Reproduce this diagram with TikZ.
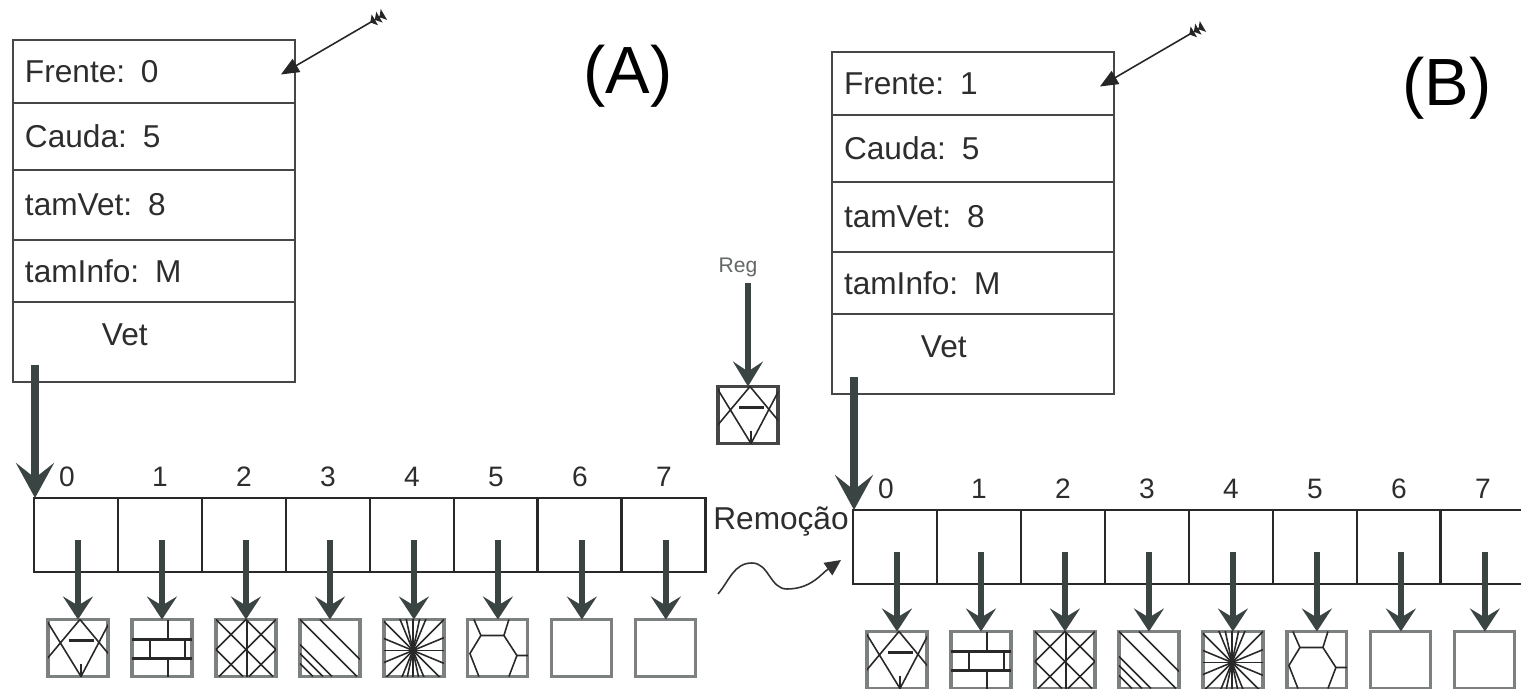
\documentclass[tikz,border=0pt]{standalone}
\usepackage{fontspec}
\setmainfont{Liberation Sans}
\usepackage{tikz}
\usetikzlibrary{calc}
\usetikzlibrary{positioning}
\usetikzlibrary{arrows.meta}
\definecolor{boxline}{RGB}{70,70,70}
\definecolor{cellline}{RGB}{40,40,40}
\definecolor{arrowgray}{RGB}{58,68,66}
\definecolor{elemline}{RGB}{125,128,128}
\definecolor{textgray}{RGB}{45,45,45}
\tikzset{
    % linhas do registro (Frente, Cauda, ...)
    fieldrow/.style={
        draw=boxline, line width=1.6pt,
        minimum width=5.64cm, text width=5.16cm, align=left,
        inner xsep=0.24cm, inner ysep=0pt, outer sep=0pt,
        text=textgray, font=\fontsize{18}{20}\selectfont
    },
    cellbox/.style={
        draw=cellline, line width=1.6pt,
        minimum width=1.68cm, minimum height=1.48cm,
        inner sep=0pt, outer sep=0pt
    },
    elembox/.style={
        draw=elemline, line width=1.8pt,
        minimum width=1.2cm, minimum height=1.14cm,
        inner sep=0pt, outer sep=0pt
    },
    idxlabel/.style={text=textgray, font=\fontsize{16}{18}\selectfont},
    biglabel/.style={text=black, font=\fontsize{38}{40}\selectfont},
    patline/.style={line width=0.9pt, cellline},
    % setas grossas
    vetarrow/.style={
        line width=4pt, arrowgray,
        -{Stealth[length=0.7cm, width=0.76cm, inset=0.3cm]}
    },
    elemarrow/.style={
        line width=3.5pt, arrowgray,
        -{Stealth[length=0.46cm, width=0.6cm, inset=0.18cm]}
    },
    regarrow/.style={
        line width=3.5pt, arrowgray,
        -{Stealth[length=0.5cm, width=0.6cm, inset=0.2cm]}
    },
    frontarrow/.style={
        line width=0.9pt, black!85,
        {Triangle[reversed, length=3pt, width=7pt]Triangle[reversed, length=3pt, width=7pt]Triangle[reversed, length=3pt, width=7pt]}-{Triangle[length=0.36cm, width=0.3cm]}
    },
    wavearrow/.style={
        line width=0.9pt, black!80,
        -{Triangle[length=0.32cm, width=0.3cm]}
    }
}
% ===================== padroes dos elementos =====================
\newcommand{\patstar}[1]{%
  \begin{scope}[shift={(#1.north west)}]
    \clip (0,0) rectangle (60,57);
    \draw[patline] (32,0) -- (-4,43) (32,0) -- (66,41)
                   (33,57) -- (-2,0) (33,57) -- (64,-2);
    \draw[patline, line width=1.3pt] (21,21) -- (46,21) (33,44) -- (33,57);
  \end{scope}}
\newcommand{\patbrick}[1]{%
  \begin{scope}[shift={(#1.north west)}]
    \clip (0,0) rectangle (60,57);
    \draw[patline, line width=1.3pt] (0,20) -- (60,20) (0,39) -- (60,39)
      (36,0) -- (36,20) (18,20) -- (18,39) (53,20) -- (53,39) (36,39) -- (36,57);
  \end{scope}}
\newcommand{\patcross}[1]{%
  \begin{scope}[shift={(#1.north west)}]
    \clip (0,0) rectangle (60,57);
    \foreach \o in {-30,0,30} {
      \draw[patline] (\o,0) -- ++(57,57);
      \draw[patline] ({60-(\o)},0) -- ++(-57,57);
    }
    \draw[patline, line width=1.3pt] (31,0) -- (31,57);
  \end{scope}}
\newcommand{\patdiag}[1]{%
  \begin{scope}[shift={(#1.north west)}]
    \clip (0,0) rectangle (60,57);
    \draw[patline] (20,0) -- (60,40) (0,0) -- (57,57)
      (0,25) -- (32,57) (0,34) -- (23,57) (0,44) -- (13,57);
  \end{scope}}
\newcommand{\patburst}[1]{%
  \begin{scope}[shift={(#1.north west)}]
    \clip (0,0) rectangle (60,57);
    \foreach \a in {0,22.5,...,157.5,78,102}
      \draw[patline] (29,31) ++(\a:45) -- ++(\a+180:90);
  \end{scope}}
\newcommand{\pathex}[1]{%
  \begin{scope}[shift={(#1.north west)}]
    \clip (0,0) rectangle (60,57);
    \draw[patline] (6,0) -- (13,16) -- (2,34) -- (11,57) (13,16) -- (36,16)
      (41,0) -- (36,16) -- (49,36) -- (60,36) (49,36) -- (41,57);
  \end{scope}}

\begin{document}
\begin{tikzpicture}[x=0.02cm, y=-0.02cm]
\useasboundingbox (0,0) rectangle (1521,689);

\foreach \s/\dx/\dy/\fr in {A/0/0/0, B/819/12/1} {
\begin{scope}[shift={(\dx,\dy)}]
  % ===================== registro da fila =====================
  \node[fieldrow, minimum height=1.26cm, anchor=north west] (f\s1) at (13,40) {Frente: \fr};
  \node[fieldrow, minimum height=1.34cm, below=0pt of f\s1] (f\s2) {Cauda: 5};
  \node[fieldrow, minimum height=1.40cm, below=0pt of f\s2] (f\s3) {tamVet: 8};
  \node[fieldrow, minimum height=1.24cm, below=0pt of f\s3] (f\s4) {tamInfo: M};
  \node[fieldrow, minimum height=1.60cm, below=0pt of f\s4] (f\s5)
    {\hspace*{1.54cm}\raisebox{0.14cm}[\height][\depth]{Vet}};

  \node[biglabel] (l\s) at (628,76) {(\s)};

  % seta da Frente
  \coordinate (t\s) at ($(f\s1.east)+(89,-57)$);
  \draw[frontarrow] (t\s) -- ($(f\s1.east)+(-14,3)$);

  % ===================== vetor =====================
  \node[cellbox, anchor=north west] (c\s0) at (34,498) {};
  \foreach \i [count=\j from 0] in {1,...,7}
    \node[cellbox, right=0pt of c\s\j] (c\s\i) {};

  \node[idxlabel] (n\s0) at ($(c\s0.north)+(-9,-21)$) {0};
  \foreach \i in {1,...,7}
    \node[idxlabel] (n\s\i) at ($(c\s\i.north)+(0,-21)$) {\i};

  \draw[vetarrow] ($(c\s0.north west |- f\s5.south)+(1,-17)$) -- ($(c\s0.north west)+(1,0)$);

  % ===================== elementos =====================
  \foreach \i in {0,...,7}
    \node[elembox] (e\s\i) at ($(c\s\i.center)+(2,113)$) {};
  \patstar{e\s0}
  \patbrick{e\s1}
  \patcross{e\s2}
  \patdiag{e\s3}
  \patburst{e\s4}
  \pathex{e\s5}
  \foreach \i in {0,...,7}
    \draw[elemarrow] ($(c\s\i.center)+(2,5)$) -- (e\s\i.north);
\end{scope}
}

% ===================== registro removido =====================
\node[elembox, draw=boxline] (rg) at (748,415) {};
\patstar{rg}
\node[text=elemline!80!black, font=\fontsize{12}{14}\selectfont] (rl) at (738,267) {Reg};
\draw[regarrow] (rg.north |- rl.south) -- (rg.north);

\node[text=textgray, font=\fontsize{18}{20}\selectfont] (rm) at (781,522) {Remoção};
\coordinate (w0) at (718,594);
\draw[wavearrow] (w0) to[out=50, in=180] ++(34,-31) to[out=0, in=180] ++(35,26)
  to[out=0, in=215] ($(cB0.west)+(-12,13)$);
\end{tikzpicture}
\end{document}
